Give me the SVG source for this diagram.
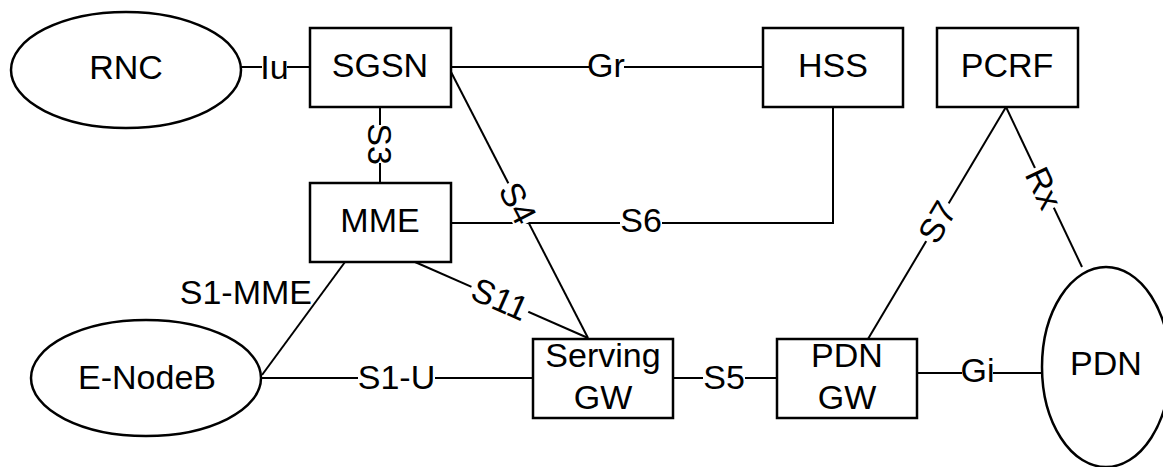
<svg xmlns="http://www.w3.org/2000/svg" width="1163" height="467" viewBox="0 0 1163 467">
<style>
.n{fill:#fff;stroke:#000;stroke-width:2.5}
.c line,.c polyline{stroke:#000;stroke-width:2;fill:none}
text{font-family:"Liberation Sans",Arial,sans-serif;font-size:34px;fill:#000;text-anchor:middle}
.bg{fill:#fff;stroke:none}
</style>
<rect width="1163" height="467" fill="#fff"/>
<g id="connectors" class="c">
<line x1="241" y1="67" x2="310" y2="67"/>
<line x1="451" y1="67" x2="763" y2="67"/>
<line x1="380" y1="107" x2="380" y2="183"/>
<polyline points="451,223 833,223 833,107"/>
<line x1="450" y1="70" x2="588" y2="338"/>
<line x1="415" y1="262" x2="588" y2="338"/>
<line x1="345" y1="262" x2="262" y2="375"/>
<line x1="262" y1="378" x2="533" y2="378"/>
<line x1="673" y1="378" x2="777" y2="378"/>
<line x1="913" y1="373" x2="1042" y2="373"/>
<line x1="1006" y1="107" x2="868" y2="339"/>
<line x1="1006" y1="107" x2="1082" y2="267"/>
<g id="labels">
<rect class="bg" x="262" y="52" width="25" height="30"/><text x="274.5" y="79">Iu</text>
<rect class="bg" x="589" y="52" width="35" height="30"/><text x="606" y="77">Gr</text>
<g transform="translate(380,144) rotate(90)"><rect class="bg" x="-19" y="-13" width="38" height="26"/><text x="0" y="12">S3</text></g>
<rect class="bg" x="620" y="208" width="42" height="30"/><text x="641" y="232">S6</text>
<g transform="translate(518,203) rotate(62.8)"><rect class="bg" x="-22" y="-14" width="44" height="28"/><text x="0" y="12">S4</text></g>
<g transform="translate(500,299) rotate(23.7)"><rect class="bg" x="-31" y="-14" width="62" height="28"/><text x="0" y="12">S11</text></g>
<text x="312" y="304" style="text-anchor:end">S1-MME</text>
<rect class="bg" x="358" y="362" width="77" height="30"/><text x="396.5" y="389">S1-U</text>
<rect class="bg" x="703" y="362" width="42" height="30"/><text x="724" y="389">S5</text>
<rect class="bg" x="962" y="358" width="31" height="30"/><text x="977.5" y="382">Gi</text>
<g transform="translate(937,222) rotate(-59.3)"><rect class="bg" x="-22" y="-14" width="44" height="28"/><text x="0" y="12">S7</text></g>
<g transform="translate(1044,188) rotate(64.6)"><rect class="bg" x="-22" y="-14" width="44" height="28"/><text x="0" y="12">Rx</text></g>
</g>
</g>
<g id="RNC"><ellipse class="n" cx="126" cy="70" rx="115" ry="58"/><text x="126" y="79">RNC</text></g>
<g id="SGSN"><rect class="n" x="310" y="28" width="141" height="79"/><text x="380" y="77">SGSN</text></g>
<g id="HSS"><rect class="n" x="763" y="28" width="140" height="79"/><text x="833" y="77">HSS</text></g>
<g id="PCRF"><rect class="n" x="937" y="28" width="141" height="79"/><text x="1007" y="77">PCRF</text></g>
<g id="MME"><rect class="n" x="310" y="183" width="141" height="79"/><text x="380" y="232">MME</text></g>
<g id="ENodeB"><ellipse class="n" cx="146" cy="378" rx="115" ry="58"/><text x="147" y="389">E-NodeB</text></g>
<g id="ServingGW"><rect class="n" x="533" y="339" width="140" height="79"/><text x="603" y="367">Serving</text><text x="603" y="409">GW</text></g>
<g id="PDNGW"><rect class="n" x="777" y="339" width="140" height="79"/><text x="847" y="367">PDN</text><text x="847" y="409">GW</text></g>
<g id="PDN"><ellipse class="n" cx="1106" cy="367" rx="64" ry="100"/><text x="1106" y="375">PDN</text></g>
</svg>
